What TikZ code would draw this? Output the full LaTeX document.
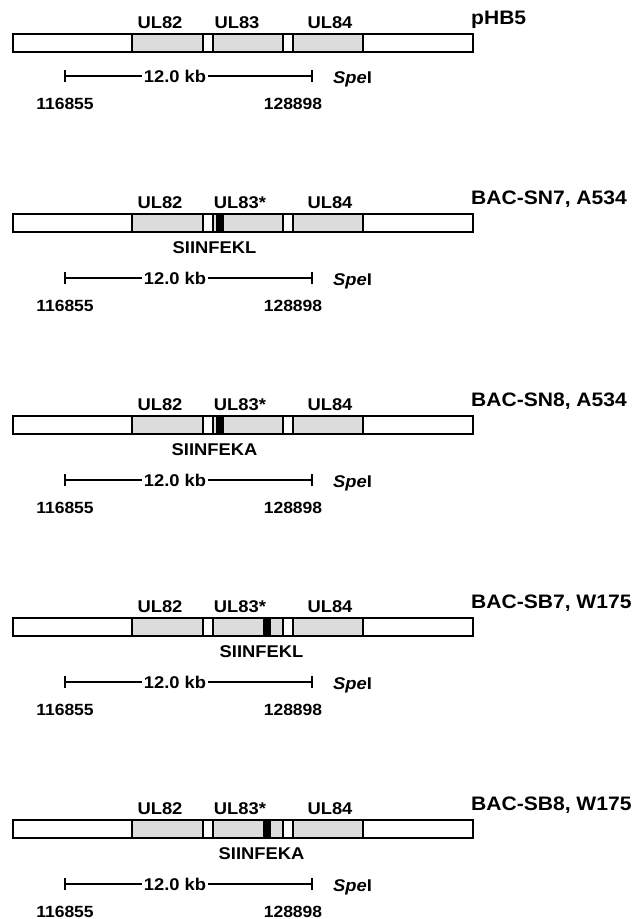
\documentclass[tikz,border=0pt]{standalone}
\usepackage{fontspec}
\setmainfont{Liberation Sans}[FakeStretch=1.08]
\usepackage{xcolor}
\usepackage{tikz}
\usetikzlibrary{arrows.meta}

\definecolor{genegrey}{RGB}{220,220,220}
\tikzset{
  genebar/.style={draw, line width=2pt, fill=white},
  genebox/.style={draw, line width=2pt, fill=genegrey},
  lbl/.style={font=\bfseries\fontsize{17}{20}\selectfont, inner sep=0pt, anchor=base},
  coord/.style={font=\bfseries\fontsize{16.2}{19}\selectfont, inner sep=0pt, anchor=base},
  construct/.style={font=\bfseries\fontsize{19.5}{23}\selectfont, inner sep=0pt, anchor=base west},
  scaleline/.style={line width=1.6pt},
  scaletick/.tip={Bar[width=12pt, line width=2pt]},
}

\begin{document}
\begin{tikzpicture}[x=1pt, y=-1pt]
        \useasboundingbox (0,0) rectangle (634,919);

        % pHB5
        \draw[genebar] (13,34) rectangle (473,52);
        \draw[genebox] (132,34) rectangle (203,52);
        \draw[genebox] (213,34) rectangle (283,52);
        \draw[genebox] (293,34) rectangle (363,52);

        \node[lbl] (a1) at (160,28) {UL82};
        \node[lbl] (b1) at (237,28) {UL83};
        \node[lbl] (c1) at (330,28) {UL84};
        \node[construct] (t1) at (471,24) {pHB5};

        % Scale bar
        \coordinate (l1) at (64,76);
        \coordinate (r1) at (313,76);
        \node[lbl, anchor=center, inner xsep=2pt] (kb1) at (175,76) {12.0 kb};
        \draw[scaleline, scaletick-] (l1) -- (kb1.west);
        \draw[scaleline, -scaletick] (kb1.east) -- (r1);
        \node[lbl, anchor=base west] (s1) at (333,83) {\textit{Spe}I};
        \node[coord] (n1) at (65,109) {116855};
        \node[coord] (m1) at (293,109) {128898};

        % BAC constructs with SIINFEK(L/A) insert
        \foreach \i/\yt/\name/\mx/\pep in {2/214/{BAC-SN7, A534}/215.5/SIINFEKL,
                                           3/416/{BAC-SN8, A534}/215.5/SIINFEKA,
                                           4/618/{BAC-SB7, W175}/262.5/SIINFEKL,
                                           5/820/{BAC-SB8, W175}/262.5/SIINFEKA}{
          \draw[genebar] (13,\yt) rectangle (473,\yt+18);
          \draw[genebox] (132,\yt) rectangle (203,\yt+18);
          \draw[genebox] (213,\yt) rectangle (283,\yt+18);
          \draw[genebox] (293,\yt) rectangle (363,\yt+18);
          \fill[black] (\mx,\yt) rectangle (\mx+8.5,\yt+18);

          \node[lbl] (a\i) at (160,\yt-6) {UL82};
          \node[lbl] (b\i) at (240,\yt-6) {UL83*};
          \node[lbl] (c\i) at (330,\yt-6) {UL84};
          \node[lbl] (p\i) at (\mx-1,\yt+39) {\pep};
          \node[construct] (t\i) at (471,\yt-10) {\name};

          \coordinate (l\i) at (64,\yt+64);
          \coordinate (r\i) at (313,\yt+64);
          \node[lbl, anchor=center, inner xsep=2pt] (kb\i) at (175,\yt+64) {12.0 kb};
          \draw[scaleline, scaletick-] (l\i) -- (kb\i.west);
          \draw[scaleline, -scaletick] (kb\i.east) -- (r\i);
          \node[lbl, anchor=base west] (s\i) at (333,\yt+71) {\textit{Spe}I};
          \node[coord] (n\i) at (65,\yt+97) {116855};
          \node[coord] (m\i) at (293,\yt+97) {128898};
        }
\end{tikzpicture}
\end{document}
